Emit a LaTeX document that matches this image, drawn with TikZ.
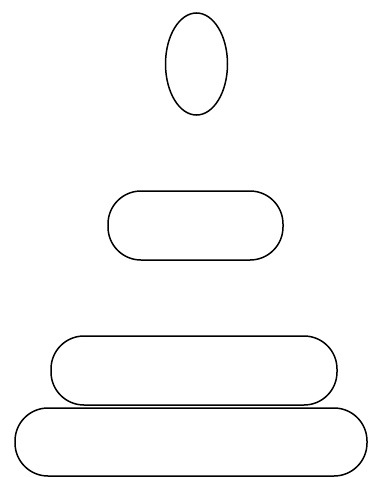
\documentclass[tikz,border=0pt]{standalone}
\usetikzlibrary{shapes.geometric}

\begin{document}
\begin{tikzpicture}[
    x=1pt, y=-1pt,
    line width=1.5pt,
    top/.style={ellipse, draw, inner sep=0pt, minimum width=62pt, minimum height=102pt},
    ring/.style={draw, rounded corners=33pt, inner sep=0pt, minimum height=69pt}
]
\useasboundingbox (0,0) rectangle (370,477);
\node[top] (cap) at (196.5,64) {};
\node[ring, minimum width=175pt] (upper) at (195.5,225.5) {};
\node[ring, minimum width=286pt] (lower) at (194,370.5) {};
\node[ring, minimum width=352pt, minimum height=68pt] (base) at (191,442) {};
\end{tikzpicture}
\end{document}
